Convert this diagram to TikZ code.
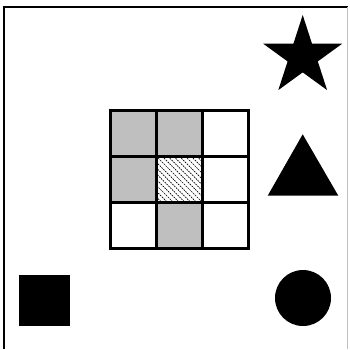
\documentclass[tikz,border=0pt]{standalone}
\tikzset{
  gridline/.style={line width=3pt, draw=black},
  greycell/.style={fill=gray!50!white, draw=none},
  hatchline/.style={line width=0.7pt, black, dash pattern=on 1.6pt off 1pt},
  solidshape/.style={fill=black, draw=none}
}
\begin{document}
\begin{tikzpicture}[x=1pt,y=-1pt]
\useasboundingbox (0,0) rectangle (350,349);
% frame
\draw[line width=2.5pt] (2.5,7) -- (348,7);
\draw[line width=2.5pt] (4,5.75) -- (4,349);
\draw[line width=1pt, gray!50] (347.5,7) -- (347.5,349);
% grey cells
\fill[greycell] (110,110) rectangle (156,156);
\fill[greycell] (156,110) rectangle (202,156);
\fill[greycell] (110,156) rectangle (156,202);
\fill[greycell] (156,202) rectangle (202,248);
% hatched center
\begin{scope}
\clip (156,156) rectangle (202,202);
\foreach \i in {-10,...,10} {
  \draw[hatchline] (179+\i*5.8-30,149) -- (179+\i*5.8+30,209);
}
\end{scope}
% grid
\foreach \v in {110,156,202,248} {
  \draw[gridline] (\v,108.5) -- (\v,249.5);
  \draw[gridline] (108.5,\v) -- (249.5,\v);
}
% star
\fill[solidshape] (302.7,15) -- (312.0,43.7) -- (342.2,43.7) -- (317.8,61.4) -- (327.1,90.1)
  -- (302.7,72.35) -- (278.3,90.1) -- (287.6,61.4) -- (263.2,43.7) -- (293.4,43.7) -- cycle;
% triangle
\fill[solidshape] (302.7,134.3) -- (338.3,195.7) -- (267.7,195.7) -- cycle;
% square
\fill[solidshape] (19,275) rectangle (70,326);
% circle
\fill[solidshape] (303,298) circle (28);
\end{tikzpicture}
\end{document}
